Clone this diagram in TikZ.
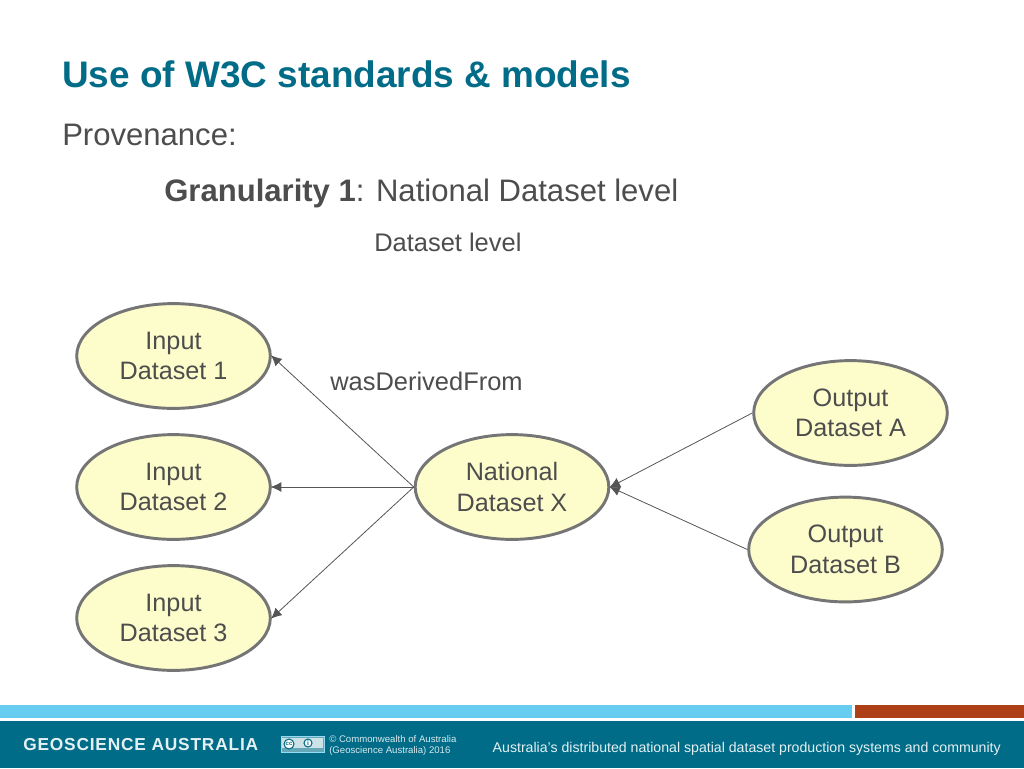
\documentclass[tikz,border=0pt]{standalone}
\usepackage{fontspec}
\setmainfont{Liberation Sans}
\usetikzlibrary{shapes.geometric,arrows.meta}
\definecolor{teal}{HTML}{006C88}
\definecolor{txt}{HTML}{4D4D4D}
\definecolor{sky}{HTML}{66CDF0}
\definecolor{rust}{HTML}{AE4018}
\definecolor{ovalfill}{HTML}{FDFDCC}
\definecolor{ovaledge}{HTML}{757575}
\definecolor{linecol}{HTML}{555555}
\tikzset{
  px/.style={x=0.75pt,y=-0.75pt},
  oval/.style={ellipse,draw=ovaledge,fill=ovalfill,line width=2.2pt,minimum width=145.2pt,minimum height=78.6pt,inner sep=0pt,align=center,text=txt,font=\fontsize{18.9}{22.8}\selectfont},
  link/.style={draw=linecol,line width=0.6pt,-{Latex[length=8pt,width=7.5pt]},shorten >=-0.8pt},
  head/.style={anchor=base west,inner sep=0pt,text=txt}
}
\begin{document}
\begin{tikzpicture}[px]
\useasboundingbox (0,0) rectangle (1024,768);
\fill[white] (0,0) rectangle (1024,768);
\node[anchor=base west,inner sep=0pt,text=teal,font=\fontsize{27.7}{32}\selectfont\bfseries] (title) at (62,87.5) {Use of W3C standards \& models};
\node[head,font=\fontsize{23.3}{28}\selectfont] (prov) at (62,145) {Provenance:};
\node[head,font=\fontsize{23.3}{28}\selectfont] (gran) at (164,201) {\textbf{Granularity 1}: National Dataset level};
\node[head,font=\fontsize{19.1}{22}\selectfont] (dl) at (374,251) {Dataset level};
\node[oval] (i1) at (173.5,356) {Input\\Dataset 1};
\node[oval] (i2) at (173.5,487) {Input\\Dataset 2};
\node[oval] (i3) at (173.5,618) {Input\\Dataset 3};
\node[oval] (nx) at (512,487) {National\\Dataset X};
\node[oval] (oa) at (850.5,413) {Output\\Dataset A};
\node[oval] (ob) at (845.5,549.5) {Output\\Dataset B};
\node[head,font=\fontsize{19.1}{22}\selectfont] (wdf) at (330,390) {wasDerivedFrom};
\draw[link] (nx.west) -- (i1.east);
\draw[link] (nx.west) -- (i2.east);
\draw[link] (nx.west) -- (i3.east);
\draw[link] (oa.west) -- (nx.east);
\draw[link] (ob.west) -- (nx.east);
% footer
\fill[sky] (0,705) rectangle (852,718);
\fill[rust] (855,705) rectangle (1024,718);
\fill[teal] (0,720.7) rectangle (1024,768);
\node[anchor=base west,inner sep=0pt,text=white!90!teal,font=\fontsize{13}{14}\selectfont\bfseries\addfontfeature{LetterSpace=4.6}] (ga) at (23,750) {GEOSCIENCE AUSTRALIA};
\draw[draw=sky!70!white,fill=teal!60!white,line width=0.5pt] (281,736.5) rectangle (324,752.5);
\fill[white!80!teal] (282,737.5) rectangle (323,748);
\draw[draw=teal,fill=white,line width=0.8pt] (289,744) circle (5);
\draw[draw=teal,fill=white,line width=0.8pt] (308,743) circle (4);
\node[inner sep=0pt,text=teal,font=\fontsize{4.5}{5}\selectfont\bfseries] (ccmark) at (289,744) {cc};
\node[inner sep=0pt,text=teal,font=\fontsize{5}{5}\selectfont\bfseries] (bymark) at (308,743) {i};
\node[anchor=base west,inner sep=0pt,text=white!85!teal,font=\fontsize{7.2}{8.6}\selectfont,align=left] (cc1) at (329,742.5) {© Commonwealth of Australia};
\node[anchor=base west,inner sep=0pt,text=white!85!teal,font=\fontsize{7.2}{8.6}\selectfont,align=left] (cc2) at (329,753) {(Geoscience Australia) 2016};
\node[anchor=base east,inner sep=0pt,text=white!90!teal,font=\fontsize{10.6}{12}\selectfont] (tag) at (1001,752) {Australia's distributed national spatial dataset production systems and community};
\end{tikzpicture}
\end{document}
